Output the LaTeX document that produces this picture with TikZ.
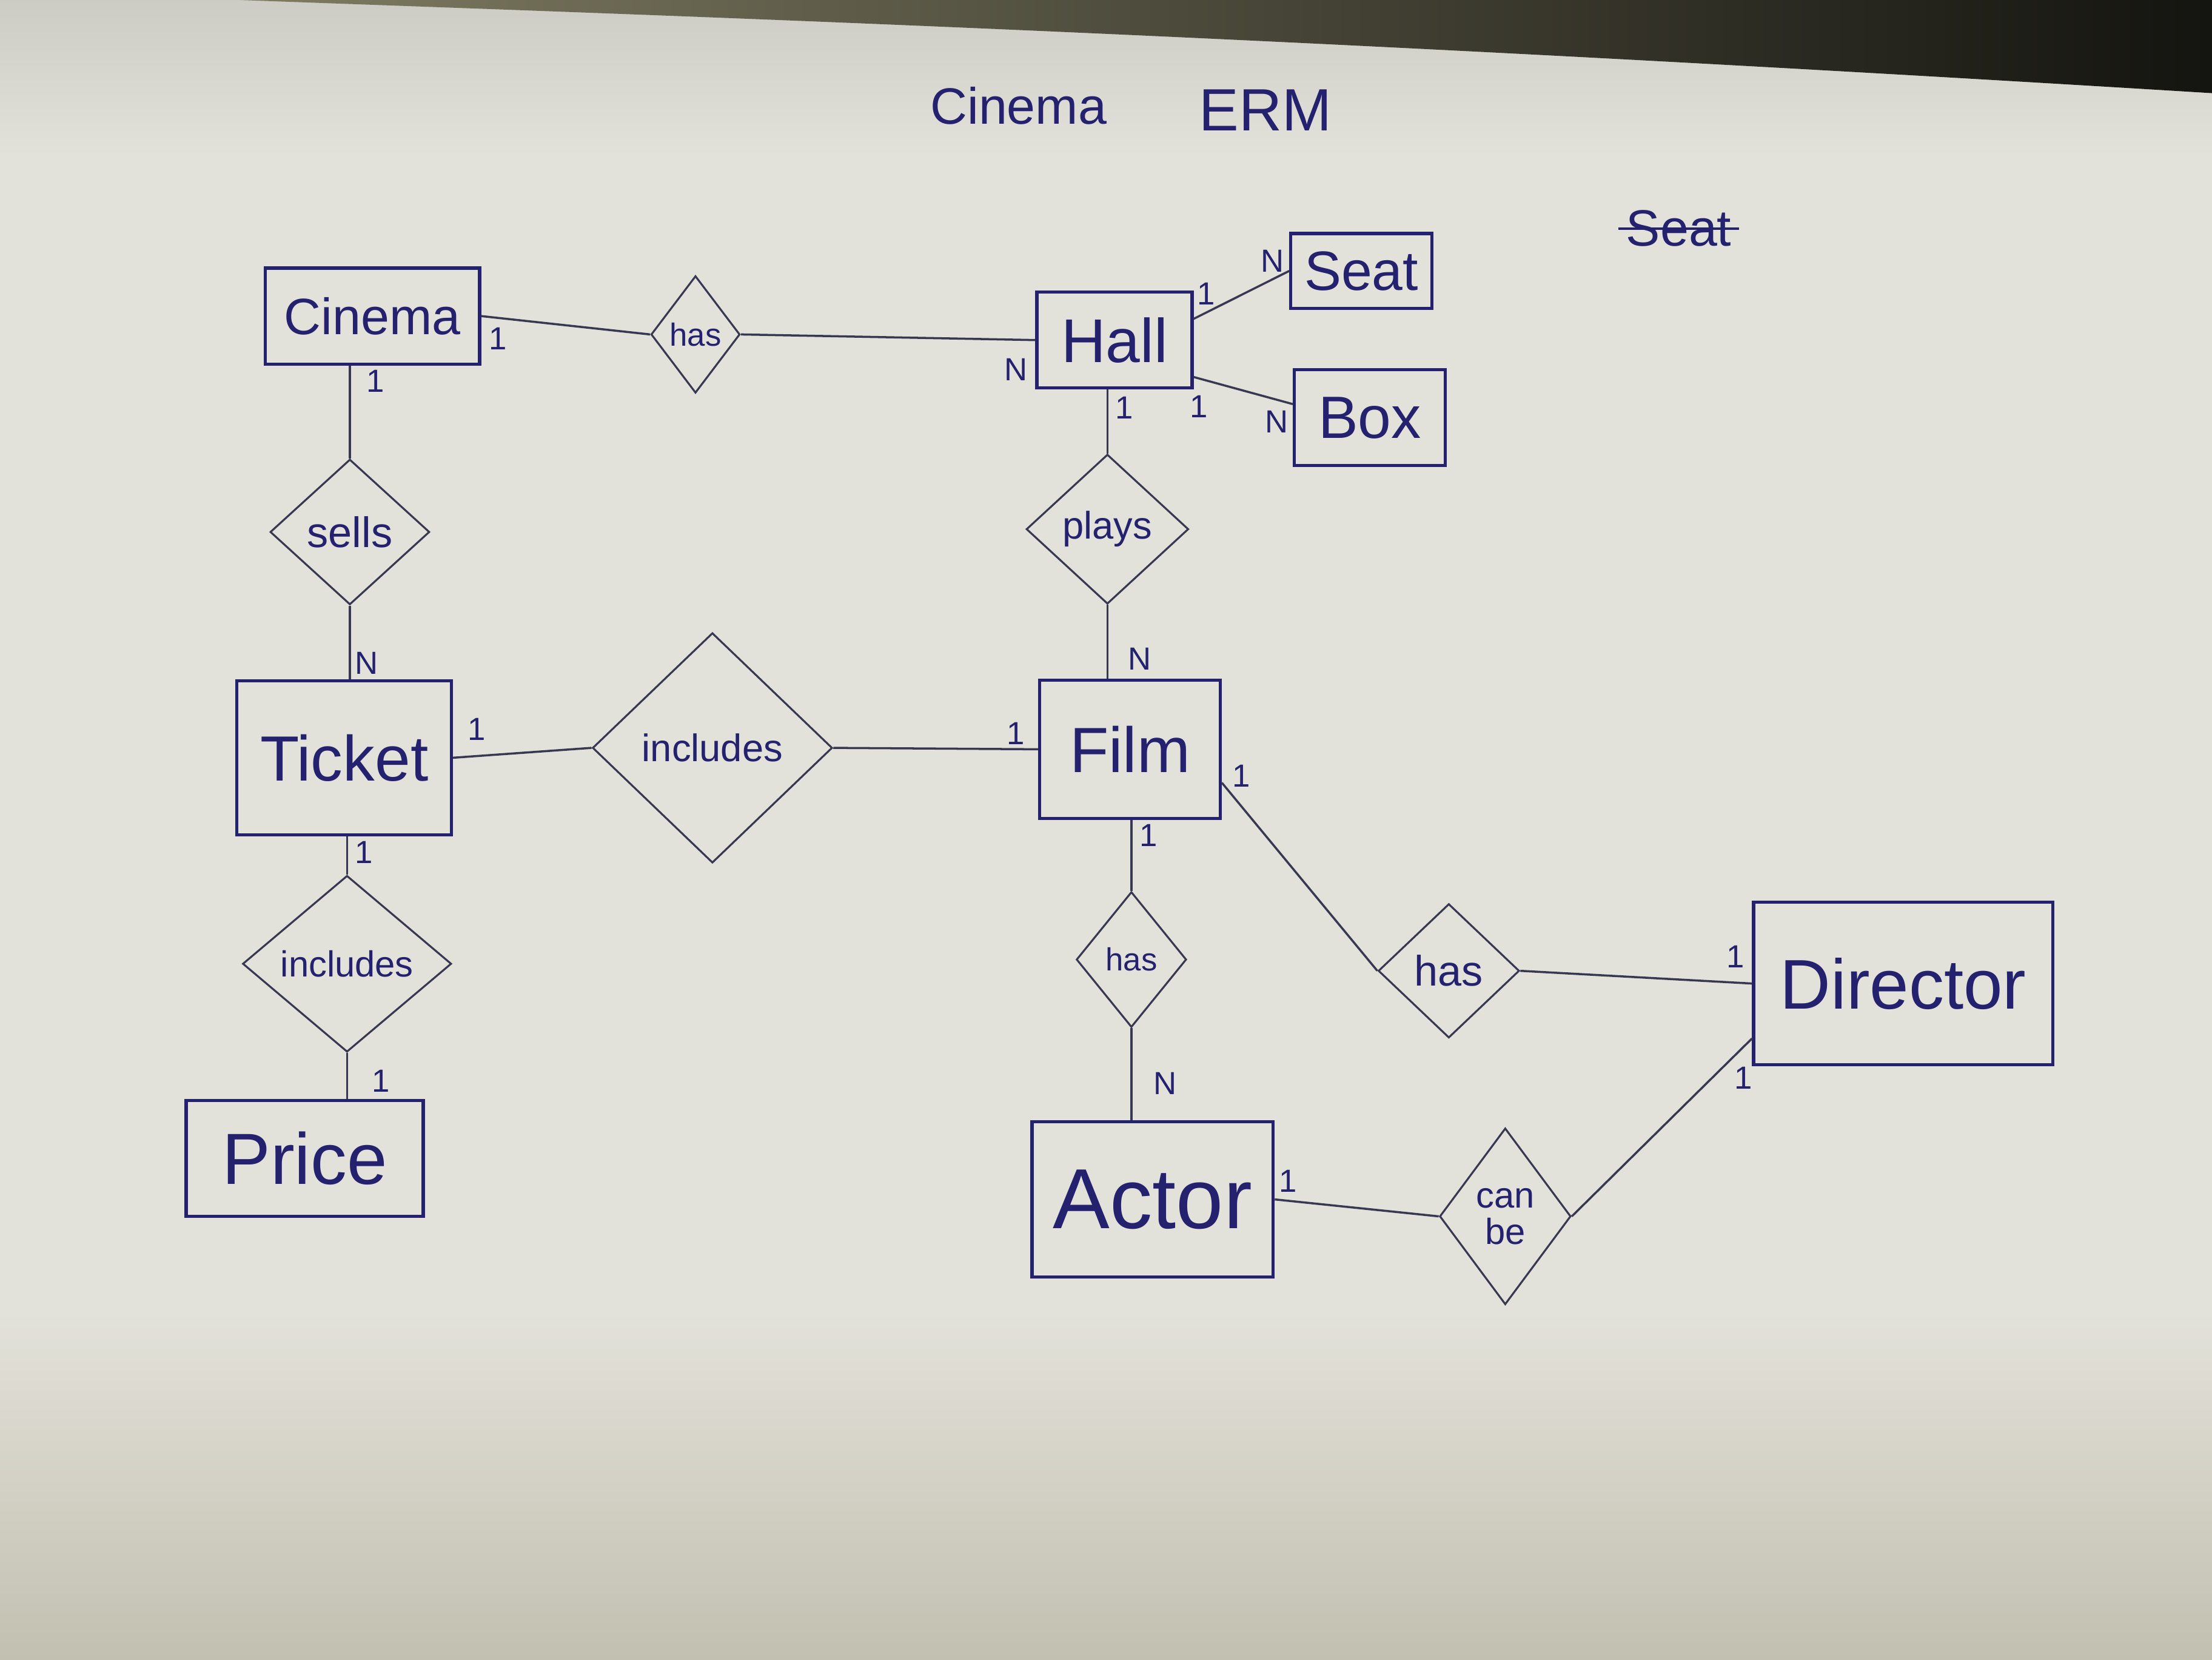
\documentclass[tikz,border=0pt]{standalone}
\usepackage{fontspec}
\setmainfont{Liberation Sans}
\usetikzlibrary{shapes.geometric}
\newdimen\pxu \pxu=0.023265cm
\definecolor{ink}{HTML}{24216F}
\definecolor{thinink}{HTML}{383852}
\definecolor{paper}{HTML}{E3E2DA}
\definecolor{papershade}{HTML}{C2C0B0}
\definecolor{edgeolive}{HTML}{7F7B62}
\definecolor{edgedark}{HTML}{141410}
\newcommand\fs[1]{\fontsize{#1}{#1}\selectfont}
\begin{document}
\begin{tikzpicture}[x=0.023265cm,y=-0.023265cm,
  entity/.style={draw=ink, line width=1.5pt, text=ink, inner sep=0pt},
  rel/.style={draw=thinink, line width=0.9pt, diamond, text=ink, inner sep=0pt},
  conn/.style={draw=thinink, line width=1pt},
  card/.style={text=ink, font=\fs{15}, inner sep=0pt}]
% paper
\useasboundingbox (0,0) rectangle (1568,1176);
\fill[paper] (0,0) rectangle (1568,1176);
\shade[top color=paper, bottom color=papershade] (0,930) rectangle (1568,1176);
\shade[top color=paper!90!black, bottom color=paper] (0,0) rectangle (1568,110);
\shade[left color=edgeolive, right color=edgedark]
  (170,0) .. controls (500,12) and (900,25) .. (1568,66) -- (1568,0) -- cycle;
% title
\node[text=ink, font=\fs{24}] (title1) at (722,75) {Cinema};
\node[text=ink, font=\fs{28}] (title2) at (897,78) {ERM};
\node[text=ink, font=\fs{24}] (oldseat) at (1190,162) {Seat};
\draw[ink, line width=1.2pt] (oldseat.west) -- (oldseat.east);
% entities
\node[entity, minimum width=152\pxu, minimum height=68\pxu, font=\fs{24}] (cinema) at (264,224) {Cinema};
\node[entity, minimum width=110\pxu, minimum height=68\pxu, font=\fs{29}] (hall) at (790,241) {Hall};
\node[entity, minimum width=100\pxu, minimum height=53\pxu, font=\fs{26}] (seat) at (965,192) {Seat};
\node[entity, minimum width=107\pxu, minimum height=68\pxu, font=\fs{28}] (box) at (971,296) {Box};
\node[entity, minimum width=152\pxu, minimum height=109\pxu, font=\fs{30}] (ticket) at (244,537) {Ticket};
\node[entity, minimum width=128\pxu, minimum height=98\pxu, font=\fs{30}] (film) at (801,531) {Film};
\node[entity, minimum width=212\pxu, minimum height=115\pxu, font=\fs{33}] (director) at (1349,697) {Director};
\node[entity, minimum width=168\pxu, minimum height=82\pxu, font=\fs{34}] (price) at (216,821) {Price};
\node[entity, minimum width=171\pxu, minimum height=110\pxu, font=\fs{40}] (actor) at (817,850) {Actor};
% relationships
\node[rel, minimum width=63\pxu, minimum height=83\pxu, font=\fs{15}] (has1) at (493,237) {has};
\node[rel, minimum width=115\pxu, minimum height=106\pxu, font=\fs{18}] (plays) at (785,375) {plays};
\node[rel, minimum width=113\pxu, minimum height=103\pxu, font=\fs{20}] (sells) at (248,377) {sells};
\node[rel, minimum width=170\pxu, minimum height=163\pxu, font=\fs{18}] (incl1) at (505,530) {includes};
\node[rel, minimum width=78\pxu, minimum height=96\pxu, font=\fs{15}] (has2) at (802,680) {has};
\node[rel, minimum width=100\pxu, minimum height=95\pxu, font=\fs{20}] (has3) at (1027,688) {has};
\node[rel, minimum width=148\pxu, minimum height=125\pxu, font=\fs{17}] (incl2) at (246,683) {includes};
\node[rel, minimum width=93\pxu, minimum height=125\pxu, font=\fs{17}, align=center] (canbe) at (1067,862) {can\\be};
% connectors
\draw[conn] (cinema.east) -- (has1.west);
\draw[conn] (has1.east) -- (hall.west);
\draw[conn] (hall.15) -- (seat.west);
\draw[conn] (hall.-25) -- (box.170);
\draw[conn] (plays.north |- hall.south) -- (plays.north);
\draw[conn] (plays.south) -- (plays.south |- film.north);
\draw[conn] (sells.north |- cinema.south) -- (sells.north);
\draw[conn] (sells.south) -- (sells.south |- ticket.north);
\draw[conn] (ticket.east) -- (incl1.west);
\draw[conn] (incl1.east) -- (film.west);
\draw[conn] (incl2.north |- ticket.south) -- (incl2.north);
\draw[conn] (incl2.south) -- (incl2.south |- price.north);
\draw[conn] (has2.north |- film.south) -- (has2.north);
\draw[conn] (has2.south) -- (has2.south |- actor.north);
\draw[conn] (film.-20) -- (has3.west);
\draw[conn] (has3.east) -- (director.west);
\draw[conn] (actor.east) -- (canbe.west);
\draw[conn] (canbe.east) -- (director.200);
% cardinalities
\node[card] (c1) at (353,240) {1};
\node[card] (c2) at (266,270) {1};
\node[card] (c3) at (720,262) {N};
\node[card] (c4) at (855,208) {1};
\node[card] (c5) at (902,185) {N};
\node[card] (c6) at (850,288) {1};
\node[card] (c7) at (905,299) {N};
\node[card] (c8) at (797,289) {1};
\node[card] (c9) at (808,467) {N};
\node[card] (c10) at (260,470) {N};
\node[card] (c11) at (338,517) {1};
\node[card] (c12) at (720,520) {1};
\node[card] (c13) at (258,604) {1};
\node[card] (c14) at (270,766) {1};
\node[card] (c15) at (814,592) {1};
\node[card] (c16) at (826,768) {N};
\node[card] (c17) at (880,550) {1};
\node[card] (c18) at (1230,678) {1};
\node[card] (c19) at (1236,764) {1};
\node[card] (c20) at (913,837) {1};
\end{tikzpicture}
\end{document}
